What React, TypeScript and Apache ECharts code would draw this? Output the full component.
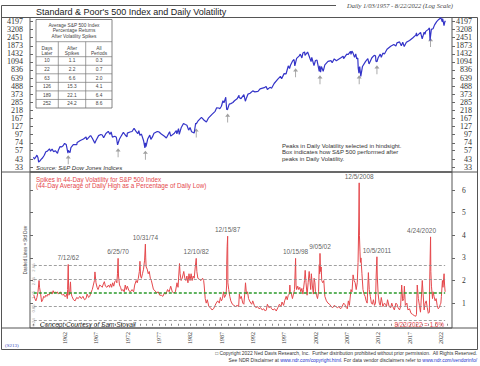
import React, { useEffect, useRef } from 'react';
import * as echarts from 'echarts';

// ---------- DATA ----------
const spTickLabels = [4197, 3208, 2451, 1873, 1432, 1094, 836, 639, 488, 373, 285, 218, 167, 127, 97, 74, 57, 43, 33];
const volTickLabels = [1, 2, 3, 4, 5, 6];
const yearLabels = [1962, 1967, 1972, 1977, 1982, 1987, 1992, 1997, 2002, 2007, 2012, 2017, 2022];
const yearTicks = Array.from({ length: 67 }, (_, i) => 1957 + i);

const spData: [string, number][] = [
  ["1957-01-03", 46.2], ["1957-02-12", 43.0], ["1957-04", 45], ["1957-07-15", 49.1], ["1957-09", 45], ["1957-10-22", 39.0], ["1957-12", 40],
  ["1958-03", 42.5], ["1958-06", 45], ["1958-09", 49], ["1958-12", 55], ["1959-03", 56], ["1959-07", 60.5], ["1959-09", 56], ["1959-12", 59.9],
  ["1960-03", 55], ["1960-06", 57], ["1960-10-25", 52.3], ["1960-12", 58], ["1961-03", 65], ["1961-06", 64.5], ["1961-09", 67], ["1961-12-12", 72.6],
  ["1962-03", 70], ["1962-06-26", 52.3], ["1962-07-12", 57.7], ["1962-10-23", 53.5], ["1962-12", 63], ["1963-05", 70], ["1963-11-22", 69.6], ["1963-12", 75],
  ["1964-06", 80], ["1964-12", 84], ["1965-05", 90], ["1965-06-28", 82], ["1965-12", 92], ["1966-02-09", 94], ["1966-05", 86], ["1966-10-07", 73.2], ["1966-12", 80],
  ["1967-05", 94], ["1967-09-25", 97.6], ["1967-12", 96], ["1968-03-05", 87.7], ["1968-07", 101], ["1968-11-29", 108.4], ["1969-03", 98], ["1969-05", 106],
  ["1969-07-29", 89.5], ["1969-12", 92], ["1970-03", 89], ["1970-05-26", 69.3], ["1970-06-25", 73], ["1970-09", 84], ["1970-12", 92], ["1971-04-28", 104.8],
  ["1971-08", 96], ["1971-11-23", 90.2], ["1971-12", 102], ["1972-05", 106], ["1972-09", 108], ["1973-01-11", 120.2], ["1973-04", 110], ["1973-08", 100],
  ["1973-10", 111], ["1973-12", 95], ["1974-03", 99], ["1974-07", 80], ["1974-10-03", 62.3], ["1974-10-31", 73.9], ["1974-12-06", 65], ["1975-03", 84],
  ["1975-07-15", 95.6], ["1975-09", 83], ["1975-12", 90], ["1976-03", 102], ["1976-09-21", 107.8], ["1976-12", 107], ["1977-05", 99], ["1977-11", 92],
  ["1978-03-06", 86.9], ["1978-09-12", 106.9], ["1978-11-14", 92.5], ["1979-06", 102], ["1979-10-05", 111], ["1979-11-07", 99.9], ["1980-02-13", 118.4],
  ["1980-03-27", 98.2], ["1980-07", 122], ["1980-11-28", 140.5], ["1981-03", 136], ["1981-06", 133], ["1981-09-25", 112.8], ["1981-12", 123], ["1982-03", 107],
  ["1982-08-12", 102.4], ["1982-11-09", 143], ["1982-12-10", 139], ["1983-03", 152], ["1983-10-10", 172.6], ["1984-03", 157], ["1984-07-24", 147.8],
  ["1984-11", 168], ["1985-06", 191], ["1985-12", 211], ["1986-03", 238], ["1986-07", 236], ["1986-09", 230], ["1986-12", 250], ["1987-03", 300],
  ["1987-05", 280], ["1987-08-25", 336.8], ["1987-10-19", 224.8], ["1987-12-04", 223.9], ["1988-03", 268], ["1988-06", 273], ["1988-10", 283],
  ["1989-01", 300], ["1989-06", 320], ["1989-10-09", 359.8], ["1989-10-13", 333.6], ["1990-01-30", 322], ["1990-07-16", 369], ["1990-10-11", 295.5],
  ["1990-12", 330], ["1991-03", 375], ["1991-07", 385], ["1991-12", 417], ["1992-04", 404], ["1992-10", 410], ["1993-02", 445], ["1993-10", 464],
  ["1994-02-02", 482], ["1994-04", 438], ["1994-09", 469], ["1994-12", 455], ["1995-05", 533], ["1995-12", 615], ["1996-05", 676], ["1996-07-24", 626],
  ["1996-12", 741], ["1997-04-11", 737], ["1997-08", 960], ["1997-10-27", 876], ["1997-12", 970], ["1998-04", 1120], ["1998-07-17", 1186], ["1998-08-31", 957],
  ["1998-10-08", 959], ["1998-12", 1229], ["1999-05", 1340], ["1999-07-16", 1418], ["1999-10-15", 1247], ["1999-12", 1469], ["2000-03-24", 1527],
  ["2000-04-14", 1357], ["2000-09", 1520], ["2000-12", 1320], ["2001-04-04", 1103], ["2001-05", 1270], ["2001-09-21", 966], ["2001-12", 1148],
  ["2002-03", 1165], ["2002-07-23", 797], ["2002-08-22", 962], ["2002-10-09", 777], ["2002-11-27", 938], ["2003-03-11", 800], ["2003-06", 990],
  ["2003-12", 1112], ["2004-06", 1140], ["2004-08", 1064], ["2004-12", 1212], ["2005-04", 1140], ["2005-12", 1248], ["2006-05", 1325], ["2006-06-13", 1224],
  ["2006-12", 1418], ["2007-02-27", 1400], ["2007-07-19", 1553], ["2007-08-15", 1406], ["2007-10-09", 1565], ["2007-12", 1468], ["2008-03-10", 1273],
  ["2008-05-19", 1426], ["2008-07-15", 1214], ["2008-09", 1250], ["2008-10-10", 899], ["2008-11-20", 752], ["2008-12", 903], ["2009-01-06", 935],
  ["2009-03-09", 677], ["2009-06", 940], ["2009-12", 1115], ["2010-04-23", 1217], ["2010-07-02", 1022], ["2010-12", 1258], ["2011-04-29", 1363],
  ["2011-07", 1345], ["2011-08-08", 1119], ["2011-10-03", 1099], ["2011-12", 1257], ["2012-04", 1419], ["2012-06", 1278], ["2012-09", 1465],
  ["2012-12", 1426], ["2013-05", 1669], ["2013-12", 1848], ["2014-06", 1960], ["2014-10", 1862], ["2014-12", 2059], ["2015-05", 2130], ["2015-08-25", 1867],
  ["2015-11", 2109], ["2016-02-11", 1829], ["2016-06", 2100], ["2016-12", 2239], ["2017-06", 2430], ["2017-12", 2674], ["2018-01-26", 2873],
  ["2018-02-08", 2581], ["2018-09-20", 2930], ["2018-12-24", 2351], ["2019-04", 2945], ["2019-06-03", 2744], ["2019-07", 3025], ["2019-12", 3231],
  ["2020-02-19", 3386], ["2020-03-23", 2237], ["2020-06-08", 3232], ["2020-09", 3300], ["2020-12", 3756], ["2021-04", 4181], ["2021-08", 4500],
  ["2021-12", 4766], ["2022-01-03", 4796], ["2022-03-08", 4170], ["2022-03-29", 4631], ["2022-06-16", 3667], ["2022-08-16", 4305], ["2022-08-22", 4138],
];

const volData: [string, number][] = [
  ["1957-01", 1.35], ["1957-03", 1.2], ["1957-05", 1.1], ["1957-07", 1.25], ["1957-09", 1.5], ["1957-11", 2.0], ["1957-12", 1.7],
  ["1958-02", 1.4], ["1958-04", 1.06], ["1958-06", 1.15], ["1958-08", 1.3], ["1958-10", 1.25], ["1958-12", 1.35],
  ["1959-02", 1.3], ["1959-04", 1.4], ["1959-06", 1.35], ["1959-08", 1.45], ["1959-10", 1.5], ["1959-12", 1.4],
  ["1960-02", 1.55], ["1960-04", 1.45], ["1960-06", 1.5], ["1960-08", 1.45], ["1960-10", 1.5], ["1960-12", 1.4],
  ["1961-02", 1.45], ["1961-04", 1.5], ["1961-06", 1.4], ["1961-08", 1.35], ["1961-10", 1.4], ["1961-12", 1.3],
  ["1962-02", 1.3], ["1962-04", 1.4], ["1962-05-20", 1.2], ["1962-06-05", 1.6], ["1962-07-12", 2.71], ["1962-08-01", 1.8], ["1962-08-20", 1.35],
  ["1962-10-01", 1.4], ["1962-11-20", 1.94], ["1962-12-20", 1.45],
  ["1963-02", 1.3], ["1963-05", 1.15], ["1963-08", 1.1], ["1963-11", 1.25], ["1964-02", 1.2], ["1964-05", 1.3], ["1964-08", 1.2], ["1964-11", 1.3],
  ["1965-02", 1.15], ["1965-05", 1.2], ["1965-07", 1.4], ["1965-10", 1.25], ["1965-12", 1.3],
  ["1966-02", 1.45], ["1966-05", 1.6], ["1966-07", 1.8], ["1966-09", 2.0], ["1966-10-15", 2.38], ["1966-12", 1.9],
  ["1967-02", 1.7], ["1967-04", 1.6], ["1967-07", 1.8], ["1967-10", 1.75], ["1967-12", 1.7],
  ["1968-02", 1.85], ["1968-04", 1.95], ["1968-06", 1.75], ["1968-09", 1.7], ["1968-12", 1.8],
  ["1969-02", 1.7], ["1969-04", 1.85], ["1969-06", 1.7], ["1969-08", 1.9], ["1969-10", 1.75], ["1969-12", 1.95],
  ["1970-02", 2.0], ["1970-04", 1.9], ["1970-05-20", 2.3], ["1970-06-25", 2.98], ["1970-07-20", 2.2], ["1970-09", 1.8], ["1970-11", 1.7],
  ["1971-01", 1.55], ["1971-04", 1.6], ["1971-06", 1.5], ["1971-08", 1.8], ["1971-10", 1.6], ["1971-12", 1.75],
  ["1972-03", 1.55], ["1972-06", 1.5], ["1972-09", 1.6], ["1972-12", 1.5],
  ["1973-02", 1.8], ["1973-05", 2.0], ["1973-07", 1.9], ["1973-09", 2.1], ["1973-11", 2.4], ["1973-12-20", 2.85],
  ["1974-01-25", 2.2], ["1974-03", 2.1], ["1974-05", 2.3], ["1974-07", 2.5], ["1974-09", 2.9], ["1974-10-31", 3.61], ["1974-11-20", 3.0], ["1974-12", 2.6],
  ["1975-02", 2.5], ["1975-04", 2.3], ["1975-06", 2.4], ["1975-08", 2.1], ["1975-10", 2.0], ["1975-12", 1.8],
  ["1976-02", 1.6], ["1976-05", 1.55], ["1976-08", 1.45], ["1976-11", 1.5], ["1977-02", 1.35], ["1977-05", 1.35], ["1977-08", 1.3], ["1977-11", 1.45],
  ["1978-02", 1.4], ["1978-05", 1.6], ["1978-08", 1.5], ["1978-11", 1.75], ["1979-02", 1.5], ["1979-05", 1.45], ["1979-08", 1.5], ["1979-11", 1.9],
  ["1980-01", 1.7], ["1980-04-10", 2.75], ["1980-05", 2.3], ["1980-07", 2.0], ["1980-09", 2.1], ["1980-12", 2.4],
  ["1981-02", 2.1], ["1981-04", 2.0], ["1981-06", 2.2], ["1981-08", 1.9], ["1981-10", 2.3], ["1981-12", 2.0],
  ["1982-02", 2.3], ["1982-04", 2.0], ["1982-06", 2.2], ["1982-08", 2.1], ["1982-10", 2.6], ["1982-12-10", 2.98], ["1983-01", 2.4],
  ["1983-03", 2.1], ["1983-06", 2.05], ["1983-09", 2.0], ["1983-12", 2.1], ["1984-02", 2.0], ["1984-03", 1.8],
  ["1984-05", 1.2], ["1984-07", 1.0], ["1984-09", 1.15], ["1984-12", 0.85], ["1985-03", 0.8], ["1985-06", 0.7], ["1985-09", 0.75], ["1985-12", 0.9],
  ["1986-02", 1.0], ["1986-05", 1.1], ["1986-08", 1.0], ["1986-10", 1.25], ["1986-12", 1.1],
  ["1987-02", 1.2], ["1987-04", 1.5], ["1987-06", 1.25], ["1987-09", 1.4], ["1987-10-16", 1.8], ["1987-10-20", 2.7], ["1987-11-15", 3.5],
  ["1987-12-15", 3.96], ["1987-12-28", 1.9], ["1988-02", 1.6], ["1988-04", 1.3], ["1988-06", 1.1], ["1988-09", 0.95], ["1988-12", 0.9],
  ["1989-03", 0.85], ["1989-06", 0.9], ["1989-09", 0.85], ["1989-10-25", 1.4], ["1989-12", 1.2],
  ["1990-02", 1.3], ["1990-05", 1.0], ["1990-07", 0.95], ["1990-09", 1.5], ["1990-10-20", 1.9], ["1990-12", 1.4],
  ["1991-02", 1.5], ["1991-04", 1.2], ["1991-07", 1.05], ["1991-10", 0.95], ["1991-12", 1.1],
  ["1992-03", 0.9], ["1992-06", 0.8], ["1992-09", 0.85], ["1992-12", 0.75], ["1993-03", 0.8], ["1993-06", 0.7], ["1993-09", 0.75], ["1993-12", 0.65],
  ["1994-02", 0.7], ["1994-04", 0.95], ["1994-07", 0.8], ["1994-10", 0.85], ["1994-12", 0.75], ["1995-03", 0.7], ["1995-06", 0.75], ["1995-09", 0.65], ["1995-12", 0.8],
  ["1996-03", 0.95], ["1996-06", 0.85], ["1996-08", 1.05], ["1996-11", 0.9],
  ["1997-01", 1.1], ["1997-04", 1.3], ["1997-06", 1.15], ["1997-08", 1.35], ["1997-10", 1.4], ["1997-11-15", 1.8], ["1997-12", 1.5],
  ["1998-02", 1.4], ["1998-04", 1.2], ["1998-06", 1.4], ["1998-08", 1.6], ["1998-10-15", 2.98], ["1998-11-10", 1.8], ["1998-12", 1.6],
  ["1999-02", 1.75], ["1999-04", 1.6], ["1999-06", 1.7], ["1999-08", 1.5], ["1999-10", 1.65], ["1999-12", 1.4],
  ["2000-01", 1.6], ["2000-03", 2.0], ["2000-04-25", 2.45], ["2000-06", 1.9], ["2000-08", 1.35], ["2000-10", 1.9], ["2000-12", 2.4],
  ["2001-01", 2.1], ["2001-03", 1.6], ["2001-04-20", 2.3], ["2001-06", 1.8], ["2001-08", 1.4], ["2001-09-28", 2.1], ["2001-11", 1.9], ["2001-12", 1.5],
  ["2002-02", 1.35], ["2002-04", 1.2], ["2002-06", 1.5], ["2002-07-25", 2.7], ["2002-08-15", 2.3], ["2002-09-05", 3.2], ["2002-10-05", 2.4],
  ["2002-11", 2.6], ["2002-12", 2.0], ["2003-02", 1.9], ["2003-04", 2.0], ["2003-06", 1.3], ["2003-09", 1.1], ["2003-12", 1.0],
  ["2004-03", 0.95], ["2004-06", 0.85], ["2004-09", 0.8], ["2004-12", 0.9], ["2005-03", 0.85], ["2005-06", 0.8], ["2005-09", 0.85], ["2005-12", 0.75],
  ["2006-02", 0.8], ["2006-06", 1.0], ["2006-08", 0.95], ["2006-11", 0.8],
  ["2007-01", 0.75], ["2007-03", 1.1], ["2007-05", 0.9], ["2007-08", 1.6], ["2007-10", 1.5], ["2007-12", 2.25],
  ["2008-02", 2.0], ["2008-04", 1.9], ["2008-06", 1.6], ["2008-08", 1.9], ["2008-10-01", 2.8], ["2008-11-10", 4.5], ["2008-12-05", 6.32],
  ["2008-12-20", 4.0], ["2009-01-20", 3.3], ["2009-02-15", 2.8], ["2009-03-20", 3.0], ["2009-05", 2.3], ["2009-07", 1.6], ["2009-09", 1.4], ["2009-11", 1.3],
  ["2010-01", 1.1], ["2010-03", 1.0], ["2010-05-25", 2.35], ["2010-07", 1.6], ["2010-09", 1.3], ["2010-11", 1.0],
  ["2011-01", 0.95], ["2011-03", 1.15], ["2011-05", 0.9], ["2011-07", 1.0], ["2011-08-20", 2.2], ["2011-10-05", 3.05], ["2011-10-25", 2.2], ["2011-12", 1.4],
  ["2012-02", 1.0], ["2012-04", 0.9], ["2012-06", 1.25], ["2012-09", 0.85], ["2012-12", 1.0],
  ["2013-02", 0.95], ["2013-04", 0.85], ["2013-06", 1.15], ["2013-09", 0.85], ["2013-12", 0.8],
  ["2014-02", 1.0], ["2014-04", 0.85], ["2014-07", 0.7], ["2014-10", 1.0], ["2014-12", 0.95],
  ["2015-02", 0.8], ["2015-05", 0.7], ["2015-07", 0.85], ["2015-09-15", 1.8], ["2015-11", 1.1],
  ["2016-01", 1.2], ["2016-02-20", 1.75], ["2016-04", 0.9], ["2016-07", 1.0], ["2016-09", 0.7], ["2016-12", 0.75],
  ["2017-03", 0.55], ["2017-06", 0.5], ["2017-09", 0.45], ["2017-12", 0.42],
  ["2018-01-25", 0.5], ["2018-03-10", 1.8], ["2018-05", 1.2], ["2018-07", 0.9], ["2018-09", 0.6], ["2018-11", 1.4], ["2018-12-28", 2.0],
  ["2019-02", 1.4], ["2019-04", 0.7], ["2019-06", 1.0], ["2019-08", 1.1], ["2019-10", 0.8], ["2019-12", 0.55],
  ["2020-02-15", 0.6], ["2020-03-10", 2.2], ["2020-04-24", 3.93], ["2020-05-10", 2.4], ["2020-06", 1.75], ["2020-08", 1.2], ["2020-09-20", 1.5], ["2020-11", 1.3],
  ["2021-01", 1.1], ["2021-03", 1.2], ["2021-05", 0.9], ["2021-07", 0.75], ["2021-09", 0.8], ["2021-11", 0.95], ["2021-12", 1.0],
  ["2022-01", 1.3], ["2022-03", 2.0], ["2022-04", 1.7], ["2022-06-20", 2.3], ["2022-07-20", 1.8], ["2022-08-22", 1.5],
];

const peakDates = ["1962-07-12", "1970-06-25", "1974-10-31", "1982-12-10", "1987-12-15", "1998-10-15", "2002-09-05", "2008-12-05", "2011-10-05", "2020-04-24"];
const peakLabels = ["7/12/62", "6/25/70", "10/31/74", "12/10/82", "12/15/87", "10/15/98", "9/05/02", "12/5/2008", "10/5/2011", "4/24/2020"];
const peakVol = [2.71, 2.98, 3.61, 2.98, 3.96, 2.98, 3.2, 6.32, 3.05, 3.93];
const peakSpLow = [53, 67, 62, 130, 214, 965, 763, 763, 1066, 2629];

const stdLevels = [2.66, 2.06, 1.45, 0.85, 0.24];

const tableDays = ["10", "22", "63", "126", "189", "252"];
const tableAfter = ["1.1", "2.2", "6.6", "15.3", "22.1", "24.2"];
const tableAll = ["0.3", "0.7", "2.0", "4.1", "6.4", "8.6"];

// ---------- HELPERS ----------
const toYear = (s: string) => {
  const p = s.split('-').map(Number);
  const y = p[0], m = p[1] || 1, d = p[2] || 15;
  const t = Date.UTC(y, m - 1, d);
  const a = Date.UTC(y, 0, 1), b = Date.UTC(y + 1, 0, 1);
  return y + (t - a) / (b - a);
};

const X_MIN = 1956.43;
const X_MAX = 2023.73;
const SANS = 'Liberation Sans, Arial, sans-serif';
const SERIF = 'Liberation Serif, Times New Roman, serif';
const RED = '#e5484c';

function buildGraphic() {
  const els: any[] = [];
  const line = (x1: number, y1: number, x2: number, y2: number, stroke = '#555', w = 1) =>
    els.push({ type: 'line', silent: true, shape: { x1, y1, x2, y2 }, style: { stroke, lineWidth: w } });
  const text = (t: string, x: number, y: number, o: any = {}) =>
    els.push({ type: 'text', silent: true, z: o.z || 10, x, y, rotation: o.rotation || 0, style: { text: t, fontSize: o.fontSize || 6, fontFamily: o.fontFamily || SANS, fontStyle: o.fontStyle || 'normal', fill: o.fill || '#222', align: o.align || 'left', verticalAlign: o.verticalAlign || 'middle', textDecoration: o.underline ? 'underline' : undefined } });

  // frame
  line(1.5, 5.5, 336, 5.5);
  line(1.5, 5.5, 1.5, 349.5);
  line(477.5, 17.5, 477.5, 349.5);
  line(1.5, 17.5, 477.5, 17.5);
  line(1.5, 172, 477.5, 172);
  line(1.5, 328, 477.5, 328);
  line(1.5, 349.5, 477.5, 349.5);

  text("Standard & Poor's 500 Index and Daily Volatility", 36, 12, { fontSize: 9, fill: '#222' });
  text("Daily 1/03/1957 - 8/22/2022 (Log Scale)", 453, 5, { fontSize: 6.5, fontFamily: SERIF, fontStyle: 'italic', align: 'right', fill: '#444' });

  // table
  const tx0 = 36, tx1 = 112, ty0 = 19.5, tyH = 41.7, tyC = 56.7, rowH = 8.55;
  els.push({ type: 'rect', silent: true, shape: { x: tx0, y: ty0, width: tx1 - tx0, height: tyC + rowH * 6 - ty0 }, style: { fill: '#fff', stroke: '#666', lineWidth: 0.8 } });
  line(tx0, tyH, tx1, tyH, '#777', 0.7);
  for (let i = 0; i < 6; i++) line(tx0, tyC + rowH * i, tx1, tyC + rowH * i, '#777', 0.7);
  line(58.3, tyH, 58.3, tyC + rowH * 6, '#777', 0.7);
  line(85.7, tyH, 85.7, tyC + rowH * 6, '#777', 0.7);
  const cx = [47, 72, 99];
  ["Average S&P 500 Index", "Percentage Returns", "After Volatility Spikes"].forEach((t, i) => text(t, 74, 25 + i * 5.9, { fontSize: 4.8, align: 'center', fill: '#444' }));
  [["Days", "Later"], ["After", "Spikes"], ["All", "Periods"]].forEach((pair, j) => {
    text(pair[0], cx[j], 48.3, { fontSize: 4.8, align: 'center', fill: '#444' });
    text(pair[1], cx[j], 53.3, { fontSize: 4.8, align: 'center', fill: '#444' });
  });
  for (let i = 0; i < 6; i++) {
    const y = tyC + rowH * i + rowH / 2;
    text(tableDays[i], cx[0], y, { fontSize: 4.8, align: 'center', fill: '#444' });
    text(tableAfter[i], cx[1], y, { fontSize: 4.8, align: 'center', fill: '#444' });
    text(tableAll[i], cx[2], y, { fontSize: 4.8, align: 'center', fill: '#444' });
  }

  text("Source: S&P Dow Jones Indices", 36, 168, { fontSize: 6, fontStyle: 'italic', fill: '#333' });
  ["Peaks in Daily Volatility selected in hindsight.", "Box indicates how S&P 500 performed after", "peaks in Daily Volatility."].forEach((t, i) =>
    text(t, 282, 145.5 + i * 6.8, { fontSize: 6, fill: '#333' }));

  text("Spikes in 44-Day Volatility for S&P 500 Index", 36, 179, { fontSize: 6.3, fill: RED });
  text("(44-Day Average of Daily High as a Percentage of Daily Low)", 36, 185.7, { fontSize: 6.3, fill: RED });
  text("Concept Courtesy of Sam Stovall", 40, 324, { fontSize: 6.5, fontStyle: 'italic', fill: '#333' });
  text("Dashed Lines = Std Dev", 25, 250, { fontSize: 4.5, rotation: Math.PI / 2, align: 'center', fill: '#444' });

  const last = volData[volData.length - 1];
  const [ly, lm, ld] = last[0].split('-').map(Number);
  text(`${lm}/${ld}/${ly} = ${last[1].toFixed(1)}%`, 444, 324, { fontSize: 6.3, align: 'right', fill: RED });

  text("(S213)", 5, 345, { fontSize: 5, fontFamily: SERIF, fill: '#3344bb', underline: true });
  text("\u25A1 Copyright 2022 Ned Davis Research, Inc.  Further distribution prohibited without prior permission.  All Rights Reserved.", 477, 353.5, { fontSize: 4.9, align: 'right', fill: '#333' });
  els.push({ type: 'text', silent: true, x: 477, y: 360, style: { text: "{a|See NDR Disclaimer at }{b|www.ndr.com/copyright.html}{a|. For data vendor disclaimers refer to }{b|www.ndr.com/vendorinfo/}", fontSize: 4.9, fontFamily: SANS, align: 'right', verticalAlign: 'middle', rich: { a: { fontSize: 4.9, fontFamily: SANS, fill: '#333' }, b: { fontSize: 4.9, fontFamily: SANS, fill: '#2233cc', textDecoration: 'underline' } } } });
  return els;
}

export default function App() {
  const ref = useRef<HTMLDivElement>(null);
  useEffect(() => {
    if (!ref.current) return;
    const chart = echarts.init(ref.current, undefined, { renderer: 'svg' });
    const xFirst = toYear(volData[0][0]);
    const xLast = toYear(volData[volData.length - 1][0]);
    const option: any = {
      animation: false,
      backgroundColor: '#fff',
      grid: [
        { left: 30, right: 28, top: 17.5, height: 154.5, show: true, borderColor: '#555', borderWidth: 1 },
        { left: 30, right: 28, top: 172, height: 156, show: true, borderColor: '#555', borderWidth: 1 },
      ],
      xAxis: [
        { gridIndex: 0, type: 'value', min: X_MIN, max: X_MAX, show: false },
        {
          gridIndex: 1, type: 'value', min: X_MIN, max: X_MAX,
          axisLine: { show: false }, splitLine: { show: false },
          axisTick: { show: true, inside: true, length: 2, customValues: yearTicks, lineStyle: { color: '#888' } },
          axisLabel: { customValues: yearLabels, rotate: 90, fontSize: 6, fontFamily: SERIF, color: '#333', margin: 4, formatter: (v: number) => String(Math.round(v)) },
        },
      ],
      yAxis: [
        {
          gridIndex: 0, type: 'log', logBase: 10, min: 28, max: 4800, position: 'left',
          axisLine: { show: false }, splitLine: { show: false },
          axisTick: { show: true, inside: true, length: 3, customValues: spTickLabels, lineStyle: { color: '#666' } },
          axisLabel: { customValues: spTickLabels, fontSize: 8, fontFamily: SERIF, color: '#333', margin: 7, formatter: (v: number) => String(Math.round(v)) },
        },
        {
          gridIndex: 0, type: 'log', logBase: 10, min: 28, max: 4800, position: 'right',
          axisLine: { show: false }, splitLine: { show: false },
          axisTick: { show: true, inside: false, length: 3, customValues: spTickLabels, lineStyle: { color: '#666' } },
          axisLabel: { customValues: spTickLabels, fontSize: 8, fontFamily: SERIF, color: '#333', margin: 20, align: 'right', formatter: (v: number) => String(Math.round(v)) },
        },
        {
          gridIndex: 1, type: 'value', min: -0.1, max: 6.8, position: 'left',
          axisLine: { show: false }, splitLine: { show: false },
          axisTick: { show: true, inside: true, length: 3, customValues: volTickLabels, lineStyle: { color: '#666' } },
          axisLabel: { show: false },
        },
        {
          gridIndex: 1, type: 'value', min: -0.1, max: 6.8, position: 'right',
          axisLine: { show: false }, splitLine: { show: false },
          axisTick: { show: true, inside: false, length: 3, customValues: volTickLabels, lineStyle: { color: '#666' } },
          axisLabel: { customValues: volTickLabels, fontSize: 7.5, fontFamily: SERIF, color: '#333', margin: 10 },
        },
      ],
      series: [
        {
          type: 'line', xAxisIndex: 0, yAxisIndex: 0, showSymbol: false, silent: true,
          data: spData.map(([d, v]) => [toYear(d), v]),
          lineStyle: { color: '#3434c8', width: 1.2 },
        },
        {
          type: 'scatter', xAxisIndex: 0, yAxisIndex: 0, silent: true,
          symbol: 'path://M5,0 L9,5 L5.7,5 L5.7,14 L4.3,14 L4.3,5 L1,5 Z',
          symbolSize: [5, 9], symbolOffset: [0, 7],
          itemStyle: { color: '#888' },
          data: peakDates.map((d, i) => [toYear(d), peakSpLow[i]]),
        },
        {
          type: 'line', xAxisIndex: 1, yAxisIndex: 2, showSymbol: false, silent: true,
          data: volData.map(([d, v]) => [toYear(d), v]),
          lineStyle: { color: RED, width: 1 },
          markLine: {
            silent: true, symbol: ['none', 'none'], label: { show: false },
            data: stdLevels.map((l, i) => [
              { coord: [xFirst, l], lineStyle: i === 2 ? { color: '#2a9a2a', type: [3, 2], width: 1.6 } : { color: '#888', type: [3, 2], width: 0.8 } },
              { coord: [xLast, l] },
            ]),
          },
        },
        {
          type: 'scatter', xAxisIndex: 1, yAxisIndex: 2, silent: true, symbolSize: 0,
          data: peakDates.map((d, i) => ({
            value: [toYear(d), peakVol[i]],
            label: { offset: i === peakDates.length - 1 ? [-9, 0] : [0, 0] },
          })),
          label: {
            show: true, position: 'top', distance: 3, fontSize: 6.5, fontFamily: SANS, color: '#333',
            formatter: (p: any) => peakLabels[p.dataIndex],
          },
        },
        {
          type: 'scatter', xAxisIndex: 1, yAxisIndex: 2, silent: true, symbolSize: 0,
          data: stdLevels.map((l) => [xFirst, l]),
          label: {
            show: true, position: 'inside', rotate: 90, offset: [-2, 0], fontSize: 4.2, fontFamily: SANS,
            color: '#777',
            formatter: (p: any) => stdLevels[p.dataIndex].toFixed(2),
          },
        },
      ],
      graphic: { elements: buildGraphic() },
    };
    chart.setOption(option);
    return () => chart.dispose();
  }, []);
  return <div ref={ref} style={{ position: 'fixed', left: 0, top: 0, width: 480, height: 366, background: '#fff' }} />;
}
